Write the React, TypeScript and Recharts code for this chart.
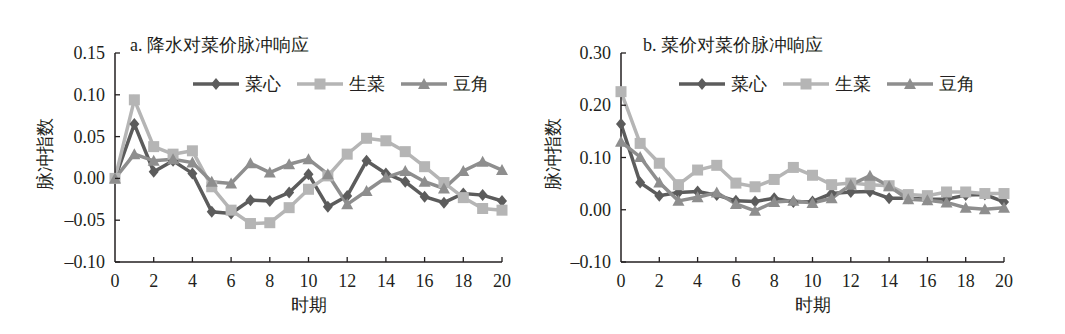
import React from 'react';
import { LineChart, Line, XAxis, YAxis, Legend, Label } from 'recharts';

const periods = [0, 1, 2, 3, 4, 5, 6, 7, 8, 9, 10, 11, 12, 13, 14, 15, 16, 17, 18, 19, 20];
const xTicks = [0, 2, 4, 6, 8, 10, 12, 14, 16, 18, 20];

// a. 降水对菜价脉冲响应
const rainCaixin = [0, 0.065, 0.008, 0.021, 0.006, -0.040, -0.042, -0.026, -0.027, -0.017, 0.005, -0.034, -0.021, 0.021, 0.006, -0.004, -0.022, -0.029, -0.018, -0.020, -0.027];
const rainShengcai = [0, 0.094, 0.038, 0.029, 0.033, -0.010, -0.038, -0.054, -0.053, -0.035, -0.013, 0.003, 0.029, 0.048, 0.045, 0.032, 0.014, -0.005, -0.023, -0.036, -0.038];
const rainDoujiao = [0, 0.029, 0.021, 0.023, 0.019, -0.004, -0.006, 0.018, 0.007, 0.017, 0.023, 0.005, -0.031, -0.015, 0.001, 0.009, -0.004, -0.012, 0.009, 0.020, 0.010];
const rainTicks = [-0.1, -0.05, 0, 0.05, 0.1, 0.15];

// b. 菜价对菜价脉冲响应
const priceCaixin = [0.164, 0.052, 0.027, 0.033, 0.035, 0.028, 0.017, 0.016, 0.022, 0.015, 0.016, 0.031, 0.034, 0.035, 0.022, 0.022, 0.020, 0.020, 0.028, 0.029, 0.015];
const priceShengcai = [0.226, 0.127, 0.089, 0.048, 0.076, 0.085, 0.051, 0.044, 0.058, 0.081, 0.066, 0.048, 0.051, 0.048, 0.046, 0.029, 0.027, 0.034, 0.034, 0.031, 0.031];
const priceDoujiao = [0.130, 0.101, 0.052, 0.017, 0.024, 0.033, 0.011, -0.002, 0.015, 0.017, 0.013, 0.022, 0.048, 0.065, 0.045, 0.020, 0.018, 0.014, 0.004, 0.001, 0.004];
const priceTicks = [-0.1, 0, 0.1, 0.2, 0.3];

const names = ['菜心', '生菜', '豆角'];
const colors = ['#5c5c5c', '#b5b5b5', '#8e8e8e'];
const shapes = ['diamond', 'square', 'triangle'];

const AXIS = '#231f20';
const FONT = '"Liberation Serif"';

const rainData = periods.map((p, i) => ({ p, a: rainCaixin[i], b: rainShengcai[i], c: rainDoujiao[i] }));
const priceData = periods.map((p, i) => ({ p, a: priceCaixin[i], b: priceShengcai[i], c: priceDoujiao[i] }));

function marker(shape: string, cx: number, cy: number, color: string, key?: any) {
  if (shape === 'diamond') {
    return <path key={key} d={`M${cx},${cy - 6}L${cx + 5},${cy}L${cx},${cy + 6}L${cx - 5},${cy}Z`} fill={color} />;
  }
  if (shape === 'square') {
    return <rect key={key} x={cx - 5.5} y={cy - 5.5} width={11} height={11} fill={color} />;
  }
  return <path key={key} d={`M${cx},${cy - 6}L${cx + 6},${cy + 5}L${cx - 6},${cy + 5}Z`} fill={color} />;
}

const makeDot = (idx: number) => (props: any) =>
  marker(shapes[idx], props.cx, props.cy, colors[idx], `d-${idx}-${props.index}`);

const XTick = (props: any) => {
  const { x, y, payload } = props;
  return (
    <g>
      {payload.value !== 0 && <line x1={x} x2={x} y1={y} y2={y - 5} stroke={AXIS} strokeWidth={1.3} />}
      <text x={x} y={y + 25} textAnchor="middle" fill={AXIS} fontSize={18} fontFamily={FONT}>
        {payload.value}
      </text>
    </g>
  );
};

const YTick = (props: any) => {
  const { x, y, payload } = props;
  const v: number = payload.value;
  const s = (v < 0 ? '\u2013' : '') + Math.abs(v).toFixed(2);
  return (
    <g>
      <line x1={x} x2={x + 5} y1={y} y2={y} stroke={AXIS} strokeWidth={1.3} />
      <text x={x - 10} y={y + 6} textAnchor="end" fill={AXIS} fontSize={18} fontFamily={FONT}>
        {s}
      </text>
    </g>
  );
};

const LegendRow = () => (
  <div style={{ display: 'flex', alignItems: 'center', fontFamily: FONT, fontSize: 18, color: AXIS }}>
    {names.map((n, i) => (
      <div key={n} style={{ display: 'flex', alignItems: 'center', marginRight: 16 }}>
        <svg width={46} height={14}>
          <line x1={0} x2={46} y1={7} y2={7} stroke={colors[i]} strokeWidth={3.5} />
          {marker(shapes[i], 23, 7, colors[i])}
        </svg>
        <span style={{ marginLeft: 6 }}>{n}</span>
      </div>
    ))}
  </div>
);

type PanelProps = {
  data: any[];
  ticks: number[];
  domain: [number, number];
  width: number;
  marginLeft: number;
  marginRight: number;
  legendLeft: number;
  labelX: number;
};

function Panel({ data, ticks, domain, width, marginLeft, marginRight, legendLeft, labelX }: PanelProps) {
  return (
    <LineChart width={width} height={334} data={data} margin={{ top: 53, right: marginRight, bottom: 42, left: marginLeft }}>
      <XAxis
        dataKey="p"
        type="number"
        domain={[0, 20]}
        ticks={xTicks}
        interval={0}
        height={30}
        tickSize={0}
        tickMargin={0}
        tickLine={false}
        stroke={AXIS}
        strokeWidth={1.5}
        tick={<XTick />}
      >
        <Label value="时期" position="bottom" offset={6} fill={AXIS} fontSize={18} fontFamily={FONT} />
      </XAxis>
      <YAxis
        type="number"
        domain={domain}
        ticks={ticks}
        interval={0}
        width={60}
        tickSize={0}
        tickMargin={0}
        tickLine={false}
        stroke={AXIS}
        strokeWidth={1.5}
        tick={<YTick />}
      >
        <Label
          content={() => (
            <text
              x={labelX}
              y={154}
              transform={`rotate(-90 ${labelX} 154)`}
              textAnchor="middle"
              dominantBaseline="central"
              fill={AXIS}
              fontSize={18}
              fontFamily={FONT}
            >
              脉冲指数
            </text>
          )}
        />
      </YAxis>
      <Legend
        layout="vertical"
        align="center"
        verticalAlign="middle"
        content={<LegendRow />}
        wrapperStyle={{ left: legendLeft, top: 72, width: 'auto' }}
      />
      {['a', 'b', 'c'].map((k, i) => (
        <Line
          key={k}
          dataKey={k}
          name={names[i]}
          stroke={colors[i]}
          strokeWidth={3.5}
          dot={makeDot(i)}
          activeDot={false}
          isAnimationActive={false}
        />
      ))}
    </LineChart>
  );
}

export default function App() {
  const titleStyle: React.CSSProperties = {
    position: 'absolute',
    top: 33,
    fontFamily: FONT,
    fontSize: 18,
    color: AXIS,
    whiteSpace: 'nowrap',
  };
  return (
    <div style={{ position: 'absolute', left: 0, top: 0, width: 1065, height: 334, background: '#fff', overflow: 'hidden' }}>
      <div style={{ position: 'absolute', left: 0, top: 0 }}>
        <Panel data={rainData} ticks={rainTicks} domain={[-0.1, 0.15]} width={530} marginLeft={55} marginRight={28} legendLeft={193} labelX={45} />
      </div>
      <div style={{ position: 'absolute', left: 530, top: 0 }}>
        <Panel data={priceData} ticks={priceTicks} domain={[-0.1, 0.3]} width={535} marginLeft={31} marginRight={61} legendLeft={149} labelX={23} />
      </div>
      <div style={{ ...titleStyle, left: 130 }}>a. 降水对菜价脉冲响应</div>
      <div style={{ ...titleStyle, left: 643 }}>b. 菜价对菜价脉冲响应</div>
    </div>
  );
}
